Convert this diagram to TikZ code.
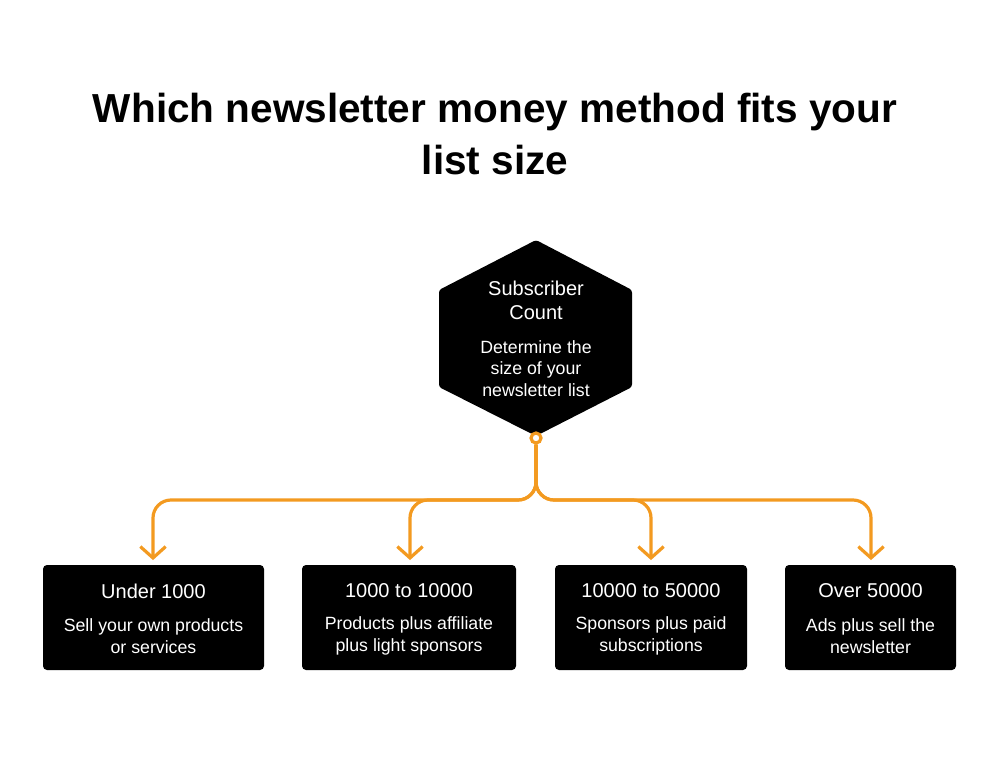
\documentclass[tikz,border=0pt]{standalone}
\usepackage{fontspec}
\setmainfont{Liberation Sans}
\usetikzlibrary{arrows.meta}
\definecolor{conn}{RGB}{243,154,32}
\tikzset{
  px/.style={x=0.75pt,y=-0.75pt},
  boxst/.style={fill=black,rounded corners=3pt,inner sep=0pt},
  ttl/.style={text=white,font=\fontsize{15}{18.5}\selectfont,align=center,inner sep=0pt},
  dsc/.style={text=white,font=\fontsize{13.3}{16.5}\selectfont,align=center,inner sep=0pt},
  wire/.style={draw=conn,line width=2.4pt,rounded corners=13.5pt,-{Straight Barb[length=8.5pt,width=19pt,line width=2.4pt]}},
}
\begin{document}
\begin{tikzpicture}[px]
\useasboundingbox (0,0) rectangle (1000,757);
% title
\node[font=\bfseries\fontsize{30.4}{39}\selectfont,align=center,inner sep=0pt] (title) at (495,134)
  {Which newsletter money method fits your\\list size};
% hexagon
\fill[black,rounded corners=2pt] (536,240) -- (632,290) -- (632,387) -- (536,436) -- (439,387) -- (439,290) -- cycle;
\node[ttl] (hext) at (536,300.5) {Subscriber\\Count};
\node[dsc,font=\fontsize{13.3}{16.2}\selectfont] (hexd) at (536,368.5) {Determine the\\size of your\\newsletter list};
% boxes
\node[boxst,minimum width=165.75pt,minimum height=78.75pt] (b1) at (153.5,617.5) {};
\node[boxst,minimum width=160.5pt,minimum height=78.75pt] (b2) at (409,617.5) {};
\node[boxst,minimum width=144pt,minimum height=78.75pt] (b3) at (651,617.5) {};
\node[boxst,minimum width=128.25pt,minimum height=78.75pt] (b4) at (870.5,617.5) {};
\node[ttl] (b1t) at (153.5,591) {Under 1000};
\node[dsc] (b1d) at (153.5,636) {Sell your own products\\or services};
\node[ttl] (b2t) at (409,591) {1000 to 10000};
\node[dsc] (b2d) at (409,636) {Products plus affiliate\\plus light sponsors};
\node[ttl] (b3t) at (651,591) {10000 to 50000};
\node[dsc] (b3d) at (651,636) {Sponsors plus paid\\subscriptions};
\node[ttl] (b4t) at (870.5,591) {Over 50000};
\node[dsc] (b4d) at (870.5,636) {Ads plus sell the\\newsletter};
% hub
\node[circle,draw=conn,fill=white,line width=2.4pt,minimum size=7.5pt,inner sep=0pt] (hub) at (536,438) {};
% connectors
\draw[wire] (hub.south) -- (536,500) -- (153,500) -- ([yshift=3.5pt]b1.north -| 153,0);
\draw[wire] (hub.south) -- (536,500) -- (410,500) -- ([yshift=3.5pt]b2.north -| 410,0);
\draw[wire] (hub.south) -- (536,500) -- (651,500) -- ([yshift=3.5pt]b3.north);
\draw[wire] (hub.south) -- (536,500) -- (871,500) -- ([yshift=3.5pt]b4.north -| 871,0);
\end{tikzpicture}
\end{document}
